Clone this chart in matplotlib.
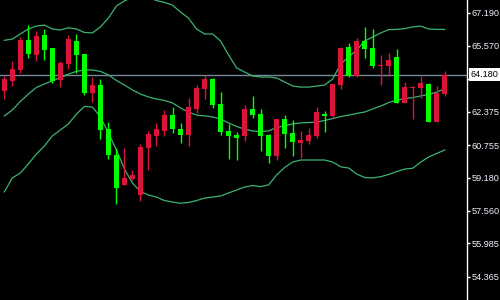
import numpy as np
import matplotlib
matplotlib.use("Agg")
import matplotlib.pyplot as plt
import matplotlib.transforms as mtrans

# candle data (red = up, lime = down)
opens = [63.394, 63.865, 64.399, 65.855, 65.142, 66.098, 65.467, 63.928, 64.705, 65.807,
         65.176, 63.297, 63.671, 61.535, 60.273, 58.831, 59.108, 58.346, 60.627, 61.195,
         61.438, 62.214, 61.535, 61.244, 62.506, 63.477, 63.962, 62.748, 61.438, 61.244,
         61.195, 62.506, 62.263, 61.244, 60.224, 62.020, 61.341, 60.855, 60.952, 61.195,
         62.263, 62.166, 63.671, 65.515, 64.108, 65.807, 65.467, 64.608, 64.593, 65.030,
         62.797, 63.525, 63.525, 63.719, 61.875, 63.234]
highs = [64.108, 64.836, 65.986, 66.583, 66.292, 66.389, 65.467, 64.836, 66.098, 66.147,
         65.176, 64.045, 63.948, 61.860, 60.613, 60.598, 59.545, 60.807, 61.438, 61.826,
         62.457, 62.603, 61.826, 63.025, 63.671, 64.156, 64.025, 63.331, 61.778, 61.389,
         62.700, 63.137, 62.506, 61.292, 62.020, 62.214, 61.972, 61.438, 61.583, 62.603,
         62.409, 63.719, 65.515, 65.710, 65.952, 66.486, 66.389, 65.127, 65.224, 65.418,
         63.816, 63.622, 64.108, 63.768, 63.622, 64.350]
lows = [62.991, 63.637, 64.239, 64.981, 64.850, 64.884, 63.753, 63.588, 64.448, 64.268,
        63.185, 62.860, 61.064, 60.079, 57.909, 58.831, 59.074, 58.040, 59.545, 60.710,
        61.195, 61.355, 60.855, 60.710, 62.312, 62.991, 62.554, 61.244, 60.079, 60.030,
        60.952, 62.069, 60.467, 59.884, 60.030, 60.613, 60.224, 60.127, 60.807, 61.098,
        61.389, 62.069, 63.477, 64.059, 64.059, 64.981, 64.496, 63.671, 64.108, 62.797,
        62.797, 62.020, 63.040, 61.875, 61.875, 63.137]
closes = [63.962, 64.448, 65.855, 65.176, 66.064, 65.370, 63.865, 64.739, 65.904, 65.142,
          63.297, 63.671, 61.501, 60.273, 58.685, 59.156, 59.316, 60.661, 61.292, 61.535,
          62.214, 61.535, 61.244, 62.588, 63.511, 63.962, 62.700, 61.389, 61.210, 61.098,
          62.506, 62.214, 61.195, 60.224, 62.020, 61.292, 60.904, 61.001, 61.244, 62.360,
          62.166, 63.719, 65.467, 64.108, 65.807, 65.418, 64.593, 64.642, 64.884, 62.797,
          63.574, 63.588, 63.768, 61.875, 63.282, 64.180]

# bollinger bands
bb_upper = [65.84, 65.90, 66.15, 66.39, 66.53, 66.58, 66.39, 66.34, 66.45, 66.39,
            66.22, 66.20, 66.49, 66.92, 67.51, 67.75, 67.94, 68.04, 67.94, 67.77,
            67.68, 67.55, 67.21, 66.92, 66.39, 66.15, 66.15, 65.81, 65.13, 64.50,
            64.30, 64.11, 64.06, 64.06, 64.01, 63.82, 63.62, 63.57, 63.57, 63.62,
            63.67, 63.96, 64.69, 65.03, 65.37, 65.81, 66.00, 66.20, 66.36, 66.37,
            66.41, 66.49, 66.53, 66.39, 66.37, 66.37]
bb_mid = [62.17, 62.46, 62.87, 63.23, 63.55, 63.72, 63.87, 64.03, 64.20, 64.33,
          64.40, 64.40, 64.33, 64.16, 63.89, 63.67, 63.43, 63.23, 63.09, 62.99,
          62.92, 62.80, 62.55, 62.36, 62.21, 62.17, 62.12, 62.02, 61.83, 61.66,
          61.53, 61.44, 61.41, 61.44, 61.61, 61.69, 61.78, 61.83, 61.85, 61.87,
          61.95, 62.04, 62.14, 62.21, 62.29, 62.36, 62.51, 62.65, 62.82, 62.94,
          63.01, 63.06, 63.14, 63.21, 63.33, 63.48]
bb_lower = [58.48, 59.16, 59.40, 59.84, 60.32, 60.71, 61.20, 61.49, 61.78, 62.26,
            62.63, 62.60, 62.12, 61.34, 60.52, 59.59, 58.91, 58.50, 58.33, 58.23,
            58.06, 57.99, 57.93, 57.97, 58.06, 58.18, 58.23, 58.28, 58.43, 58.57,
            58.72, 58.79, 58.74, 58.82, 59.30, 59.67, 59.93, 60.03, 60.03, 60.03,
            60.03, 59.93, 59.70, 59.64, 59.35, 59.18, 59.16, 59.22, 59.33, 59.47,
            59.59, 59.63, 59.93, 60.18, 60.35, 60.52]

last_price = 64.180
yticks = [67.190, 65.570, 63.965, 62.375, 60.755, 59.180, 57.560, 55.985, 54.365]
ytick_labels = ['67.190', '65.570', '', '62.375', '60.755', '59.180', '57.560', '55.985', '54.365']

UP = '#dc143c'
DOWN = '#00ff00'
BAND = '#3cb371'

o = np.array(opens); c = np.array(closes)
h = np.array(highs); l = np.array(lows)
x = np.arange(len(o))
cols = [UP if cc >= oo else DOWN for oo, cc in zip(o, c)]

fig = plt.figure(figsize=(5, 3), dpi=100, facecolor='black')
ax = fig.add_axes([0, 0, 0.933, 1])
ax.set_facecolor('black')

for band in (bb_upper, bb_mid, bb_lower):
    ax.plot(x, band, color=BAND, lw=0.9, zorder=2)

ax.axhline(last_price, color='#778899', lw=1, zorder=1)

ax.vlines(x, l, h, colors=cols, lw=1, zorder=3)
body = np.maximum(np.abs(c - o), 0.05)
ax.bar(x, body, bottom=np.minimum(o, c), width=0.62, color=cols, lw=0, zorder=4)

ax.set_xlim(-0.54, 57.71)
ax.set_ylim(53.234, 67.797)

ax.yaxis.tick_right()
ax.set_yticks(yticks)
ax.set_yticklabels(ytick_labels)
ax.tick_params(axis='y', colors='white', length=2.5, width=1, pad=1,
               labelsize=6.6, labelcolor='#eef2ff')
for t in ax.get_yticklabels():
    t.set_family('Liberation Sans')
ax.set_xticks([])
for s in ['top', 'bottom', 'left']:
    ax.spines[s].set_visible(False)
ax.spines['right'].set_color('white')
ax.spines['right'].set_linewidth(1)

tr = mtrans.blended_transform_factory(ax.transAxes, ax.transData)
ax.text(1.0095, last_price, '%.3f' % last_price, transform=tr, ha='left', va='center',
        fontsize=6.6, family='Liberation Sans', color='black', zorder=10, clip_on=False,
        bbox=dict(boxstyle='square,pad=0.2', fc='white', ec='none'))

fig.savefig('out.png', dpi=100, facecolor='black')
